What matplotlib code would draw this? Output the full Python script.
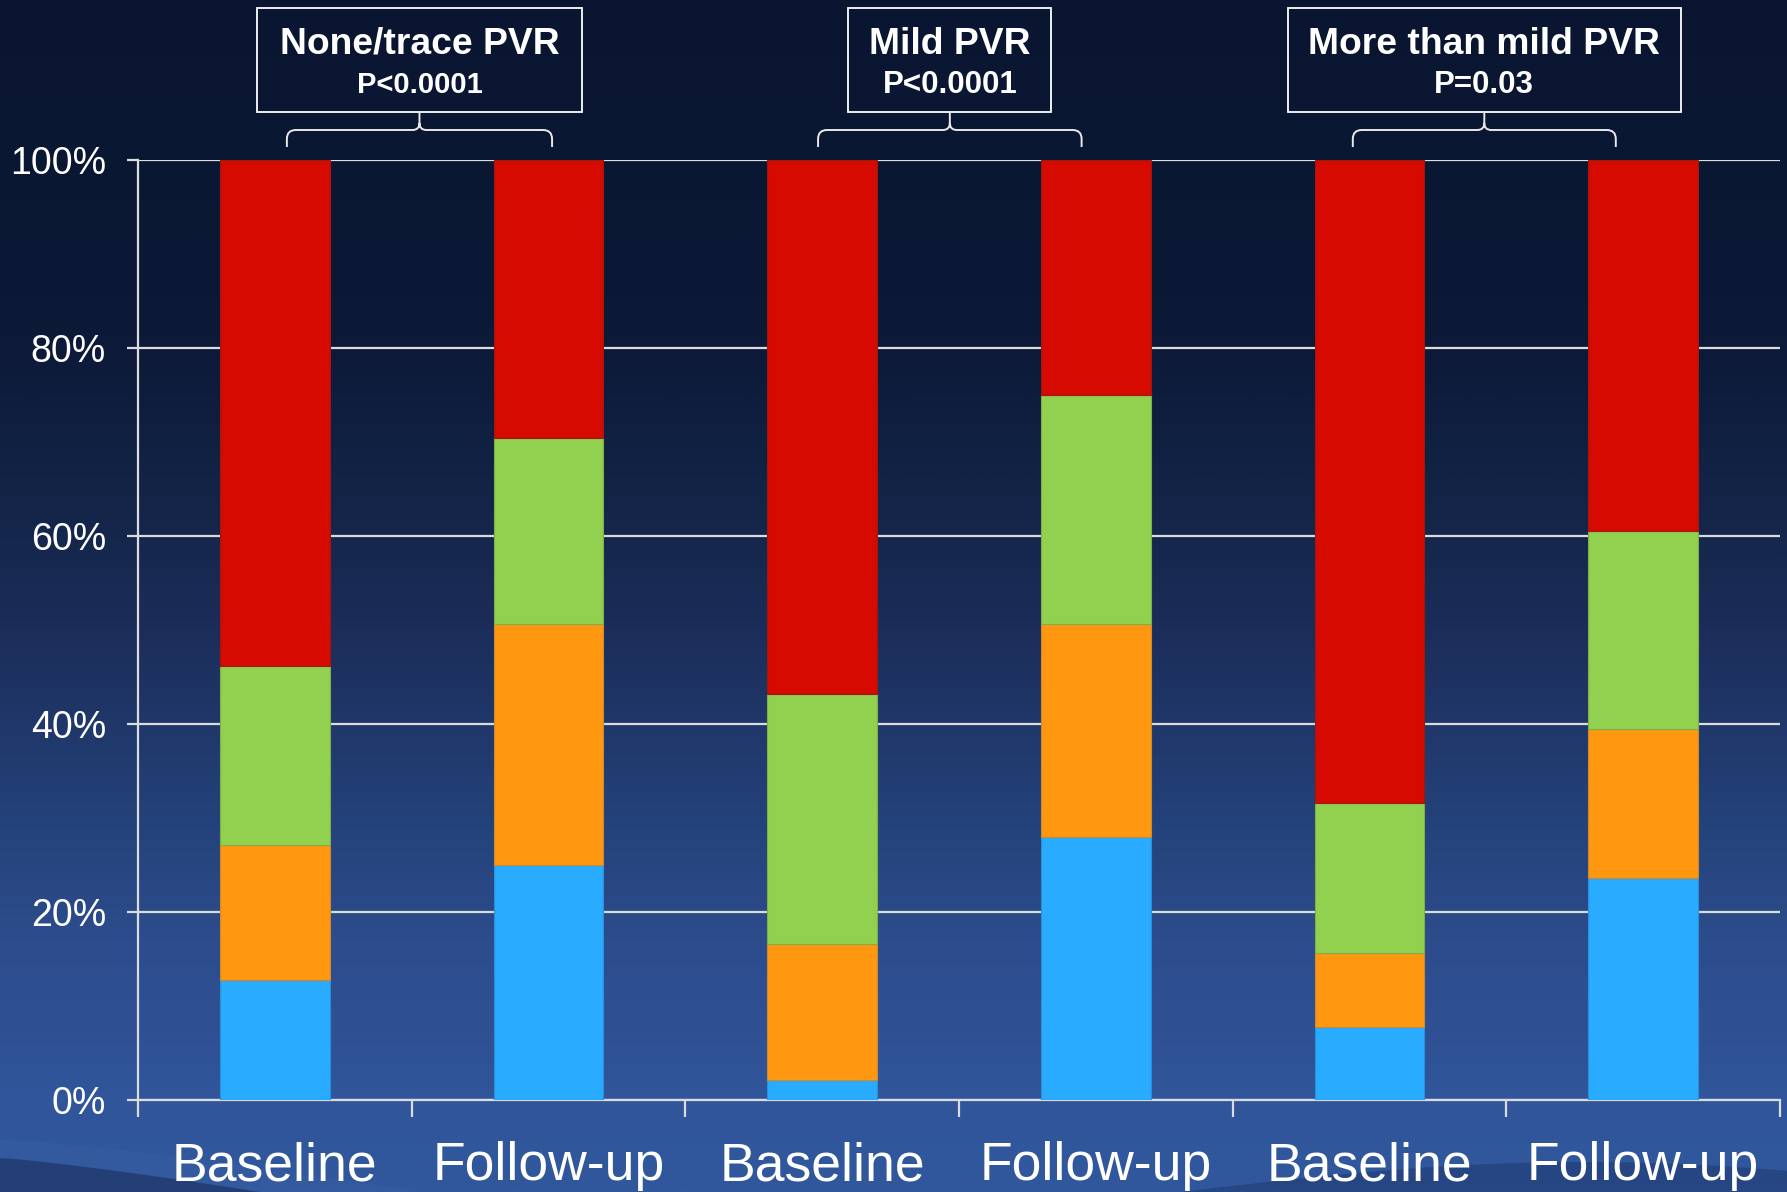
import numpy as np
import matplotlib
matplotlib.use("Agg")
import matplotlib.pyplot as plt
from matplotlib.patches import Rectangle, PathPatch, Polygon
from matplotlib.path import Path
from matplotlib.colors import LinearSegmentedColormap

plt.rcParams["font.family"] = ["Liberation Sans", "DejaVu Sans"]

# ---- data -------------------------------------------------------------
categories = ["Baseline", "Follow-up", "Baseline", "Follow-up", "Baseline", "Follow-up"]
groups = ["None/trace PVR", "Mild PVR", "More than mild PVR"]
p_values = ["P<0.0001", "P<0.0001", "P=0.03"]

# stacked segment sizes (percent), bottom to top
seg_blue = [12.8, 25.0, 2.2, 28.0, 7.8, 23.7]
seg_orange = [14.4, 25.7, 14.4, 22.7, 7.9, 15.8]
seg_green = [19.0, 19.8, 26.6, 24.3, 15.9, 21.1]
seg_red = [53.8, 29.5, 56.8, 25.0, 68.4, 39.4]

yticks = [0, 20, 40, 60, 80, 100]
ytick_labels = ["0%", "20%", "40%", "60%", "80%", "100%"]

# ---- styling ------------------------------------------------------------
W, H = 1787, 1192
colors = ["#29abff", "#ff9710", "#92d050", "#d60a00"]
edges = ["#2a8fd8", "#c98a30", "#7fae48", "#9a1a10"]
line_col = "#dcdcdc"

fig = plt.figure(figsize=(W / 100, H / 100), dpi=100)

# background: vertical navy-to-blue gradient
bg = fig.add_axes([0, 0, 1, 1], zorder=-10)
stops = [
    (0.00, "#0a1631"), (0.25, "#0b1936"), (0.30, "#0d1a39"),
    (0.40, "#122345"), (0.52, "#1b2c58"), (0.69, "#24427a"),
    (0.79, "#2c4c8c"), (0.87, "#2f5194"), (0.92, "#30559a"),
    (1.00, "#31579c"),
]
cmap = LinearSegmentedColormap.from_list("bg", stops)
grad = np.linspace(0, 1, 600).reshape(-1, 1)
bg.imshow(grad, cmap=cmap, aspect="auto", extent=[0, W, H, 0])
bg.set_xlim(0, W)
bg.set_ylim(H, 0)
# soft horizon shapes in the bottom corners
xs = np.linspace(0, 420, 50)
top = 1140 + 52 * (xs / 420) ** 1.3
bg.add_patch(Polygon(np.column_stack([np.r_[xs, 420, 0], np.r_[top, H, H]]),
                     closed=True, color="#3a62a8", alpha=0.35, lw=0))
xs2 = np.linspace(0, 260, 50)
top2 = 1158 + 34 * (xs2 / 260) ** 1.2
bg.add_patch(Polygon(np.column_stack([np.r_[xs2, 260, 0], np.r_[top2, H, H]]),
                     closed=True, color="#1f3768", alpha=0.75, lw=0))
xs3 = np.linspace(1180, W, 60)
top3 = 1192 - 30 * np.sin(np.pi * (xs3 - 1180) / (W - 1180) * 0.75)
bg.add_patch(Polygon(np.column_stack([np.r_[xs3, W, 1180], np.r_[top3, H, H]]),
                     closed=True, color="#23407a", alpha=0.7, lw=0))
bg.axis("off")

# ---- main stacked bar chart ----------------------------------------------
ax = fig.add_axes([138 / W, (H - 1100.3) / H, 1642 / W, 940 / H])
ax.set_facecolor("none")
x = np.arange(len(categories))
bottom = np.zeros(len(categories))
for seg, c, ec in zip([seg_blue, seg_orange, seg_green, seg_red], colors, edges):
    ax.bar(x, seg, bottom=bottom, width=0.4, color=c, edgecolor=ec,
           linewidth=0.8, zorder=3)
    bottom += np.array(seg)

ax.set_xlim(-0.5, len(categories) - 0.5)
ax.set_ylim(0, 100)
ax.set_yticks(yticks)
ax.set_yticklabels(ytick_labels)
ax.set_xticks(x)
ax.set_xticklabels(categories)
ax.set_xticks(np.arange(-0.5, len(categories), 1.0), minor=True)
ax.set_axisbelow(True)
ax.yaxis.grid(True, color=line_col, lw=1.6)
for s in ["top", "right"]:
    ax.spines[s].set_visible(False)
for s in ["left", "bottom"]:
    ax.spines[s].set_color(line_col)
    ax.spines[s].set_linewidth(1.6)
ax.tick_params(axis="y", length=8, width=1.6, color=line_col,
               labelsize=27, labelcolor="white", pad=15)
ax.tick_params(axis="x", which="major", length=0, labelsize=38.5,
               labelcolor="white", pad=29.5)
ax.tick_params(axis="x", which="minor", length=12, width=1.6, color=line_col)

# ---- group annotation boxes with braces ----------------------------------
ov = fig.add_axes([0, 0, 1, 1], zorder=5)
ov.set_xlim(0, W)
ov.set_ylim(H, 0)
ov.axis("off")
ov.set_facecolor("none")

box_widths = [325, 203, 393]
brace_left = [0.044, -0.015, -0.061]
brace_right = [1.013, 0.948, 0.900]
p_sizes = [21, 22.5, 22.5]
y_box_top, y_box_bot = 8, 112
y_line, y_end = 130, 147
r = 9

def to_px(xd):
    return ax.transData.transform((xd, 0))[0]

for g, (name, pv) in enumerate(zip(groups, p_values)):
    xl = to_px(2 * g + brace_left[g])
    xr = to_px(2 * g + brace_right[g])
    xc = 0.5 * (xl + xr)
    bw = box_widths[g]
    ov.add_patch(Rectangle((xc - bw / 2, y_box_top), bw, y_box_bot - y_box_top,
                           fill=False, ec="white", lw=1.3))
    ov.text(xc, 44, name, color="white", fontsize=26.8, fontweight="bold",
            ha="center", va="center")
    ov.text(xc, 85, pv, color="white", fontsize=p_sizes[g], fontweight="bold",
            ha="center", va="center")
    verts = [
        (xl, y_end), (xl, y_line + r), (xl, y_line), (xl + r, y_line),
        (xc - 7, y_line), (xc, y_line), (xc, y_line - 7), (xc, y_box_bot),
        (xc, y_line - 7), (xc, y_line), (xc + 7, y_line),
        (xr - r, y_line), (xr, y_line), (xr, y_line + r), (xr, y_end),
    ]
    codes = [
        Path.MOVETO, Path.LINETO, Path.CURVE3, Path.CURVE3,
        Path.LINETO, Path.CURVE3, Path.CURVE3, Path.LINETO,
        Path.MOVETO, Path.CURVE3, Path.CURVE3,
        Path.LINETO, Path.CURVE3, Path.CURVE3, Path.LINETO,
    ]
    ov.add_patch(PathPatch(Path(verts, codes), fill=False, ec="#e8e8e8", lw=1.4))

fig.savefig("out.png", dpi=100)
